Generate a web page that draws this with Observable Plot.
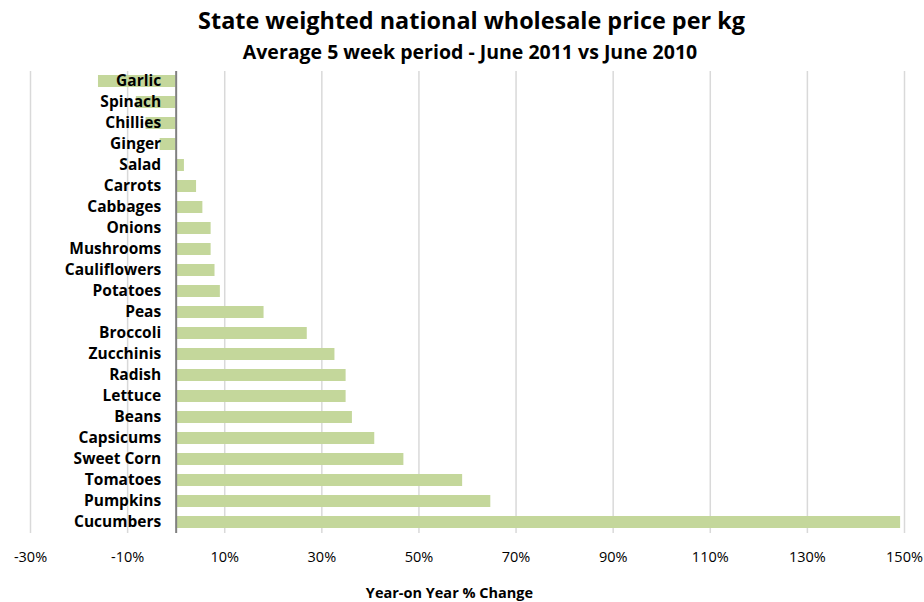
<!DOCTYPE html>
<html>
<head>
<meta charset="utf-8">
<script src="https://cdn.jsdelivr.net/npm/d3@7"></script>
<script src="https://cdn.jsdelivr.net/npm/@observablehq/plot@0.6"></script>
<style>
  html, body { margin: 0; padding: 0; background: #fff; }
  #chart svg { display: block; }
</style>
</head>
<body>
<div id="chart"></div>
<script>
const categories = ["Garlic","Spinach","Chillies","Ginger","Salad","Carrots","Cabbages","Onions","Mushrooms","Cauliflowers","Potatoes","Peas","Broccoli","Zucchinis","Radish","Lettuce","Beans","Capsicums","Sweet Corn","Tomatoes","Pumpkins","Cucumbers"];
const values = [-16, -8.2, -6.2, -3.3, 1.7, 4.2, 5.5, 7.2, 7.2, 8.0, 9.1, 18.1, 27, 32.7, 35, 35, 36.3, 40.9, 46.9, 59, 64.8, 149.2];
const tickValues = [-30, -10, 10, 30, 50, 70, 90, 110, 130, 150];
const titleText = "State weighted national wholesale price per kg";
const subtitleText = "Average 5 week period - June 2011 vs June 2010";
const xLabel = "Year-on Year % Change";

const data = categories.map((c, i) => ({name: c, value: values[i]}));
const font = "'Open Sans', Lato, sans-serif";

const chart = Plot.plot({
  width: 924,
  height: 602,
  marginLeft: 30,
  marginRight: 20,
  marginTop: 71,
  marginBottom: 69,
  style: {fontFamily: font, fontSize: "13px", color: "#000", background: "#fff"},
  x: {domain: [-30, 150], axis: null},
  y: {domain: categories, axis: null, paddingInner: 0.42, paddingOuter: 0.21},
  marks: [
    Plot.ruleX(tickValues, {stroke: "#d9d9d9", strokeWidth: 1.5}),
    Plot.barX(data, {x: "value", y: "name", fill: "#c4d79b"}),
    Plot.ruleX([0], {stroke: "#808080", strokeWidth: 2}),
    Plot.text(data, {x: () => 0, y: "name", text: "name", textAnchor: "end", dx: -15, fontWeight: "bold", fontSize: 15.5, fill: "#000"}),
    Plot.text(tickValues, {x: d => d, text: d => `${d}%`, frameAnchor: "bottom", lineAnchor: "middle", dy: 24, fontSize: 14.5, fill: "#000"}),
    Plot.text([xLabel], {text: d => d, frameAnchor: "bottom", lineAnchor: "middle", dx: -18, dy: 60, fontWeight: "bold", fontSize: 14.5, fill: "#000"}),
    Plot.text([titleText], {text: d => d, frameAnchor: "top", lineAnchor: "middle", dx: 4, dy: -50, fontWeight: "bold", fontSize: 23.4, fill: "#000"}),
    Plot.text([subtitleText], {text: d => d, frameAnchor: "top", lineAnchor: "middle", dx: 2.5, dy: -18.5, fontWeight: "bold", fontSize: 19.5, fill: "#000"})
  ]
});
document.getElementById("chart").appendChild(chart);
</script>
</body>
</html>
